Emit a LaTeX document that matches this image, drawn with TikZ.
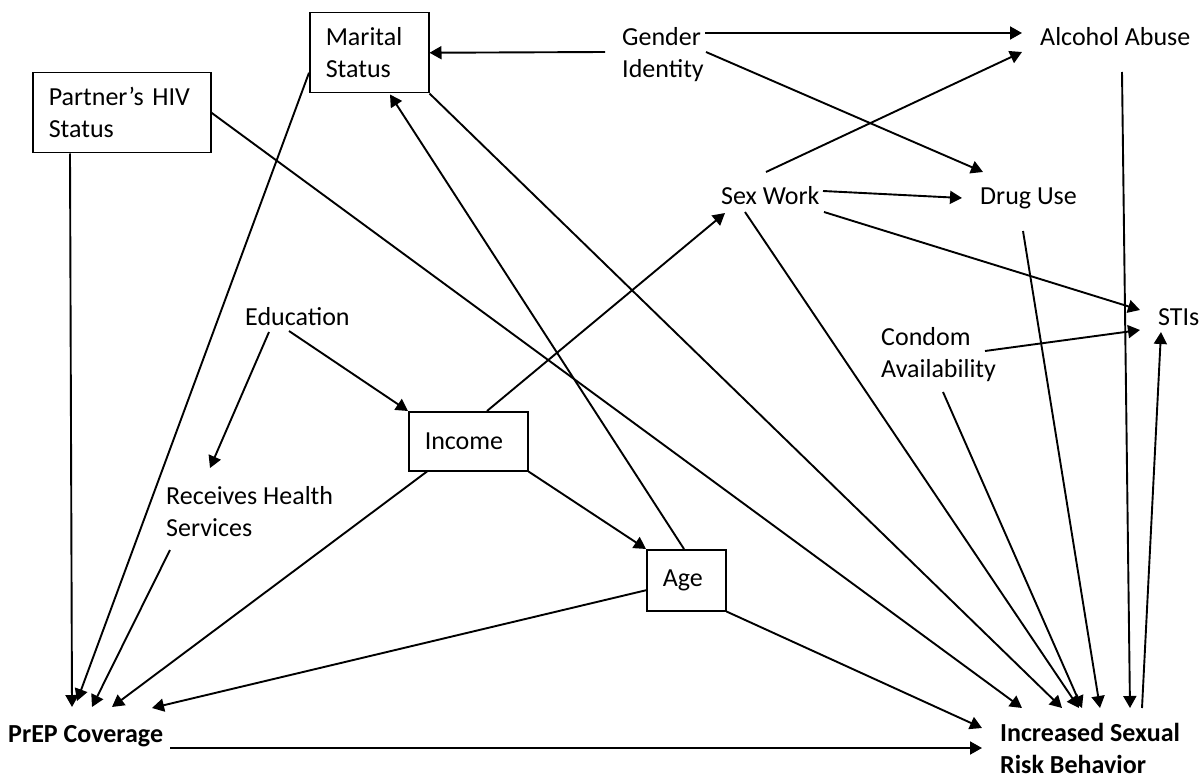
\documentclass[tikz,border=0pt]{standalone}
\usepackage{fontspec}
\setmainfont{Carlito}
\usetikzlibrary{arrows.meta}
\begin{document}
\begin{tikzpicture}[x=1pt,y=-1pt,
  every node/.style={font=\fontsize{26}{32}\selectfont, inner sep=0pt, anchor=base west, align=left},
  boldlbl/.style={font=\fontsize{26}{32}\selectfont\bfseries},
  box/.style={draw, line width=1.5pt, anchor=north west, inner xsep=16pt, inner ysep=0pt},
  arr/.style={-{Triangle[length=12pt,width=13pt]}, line width=1.9pt},
  ln/.style={line width=1.9pt}]
\useasboundingbox (0,0) rectangle (1202,778);

% boxes
\node[box, text width=87pt, minimum height=80pt] (marital) at (309,12) {Marital\\Status};
\node[box, text width=146pt, minimum height=80pt] (partner) at (32,72) {Partner’s HIV\\Status};
\node[box, text width=87pt, minimum height=59pt] (income) at (408,411) {Income};
\node[box, text width=47pt, minimum height=61pt] (age) at (646,549) {Age};

% text nodes (base west = baseline of the last line)
\node (gender) at (622,78) {Gender\\Identity};
\node (alcohol) at (1040,46) {Alcohol Abuse};
\node (sexwork) at (721,205) {Sex Work};
\node (drug) at (980,205) {Drug Use};
\node (stis) at (1158,325) {STIs};
\node (condom) at (881,377) {Condom\\Availability};
\node (education) at (245,325) {Education};
\node (receives) at (166,536) {Receives Health\\Services};
\node[boldlbl] (prep) at (8,742) {PrEP Coverage};
\node[boldlbl] (risk) at (1000,773) {Increased Sexual\\Risk Behavior};

% connectors
\draw[arr] ([shift={(-17,-26)}]gender.base west) -- (marital.east);
\draw[arr] ([shift={(83,-45)}]gender.base west) -- ([shift={(-18,-13)}]alcohol.base west);
\draw[arr] ([shift={(84,-26)}]gender.base west) -- ([shift={(3,-33)}]drug.base west);
\draw[arr] ([shift={(45,-33)}]sexwork.base west) -- ([shift={(-18,6)}]alcohol.base west);
\draw[arr] ([shift={(102,-14)}]sexwork.base west) -- ([shift={(-18,-7)}]drug.base west);
\draw[arr] ([shift={(103,7)}]sexwork.base west) -- ([shift={(-18,-15)}]stis.base west);
\draw[arr] ([shift={(104,-26)}]condom.base west) -- ([shift={(-18,5)}]stis.base west);
\draw[arr] ([shift={(142,-65)}]risk.base west) -- ([shift={(3,7)}]stis.base west);

\draw[arr] ([shift={(82,26)}]alcohol.base west) -- ([shift={(130,-65)}]risk.base west);
\draw[arr] ([shift={(43,26)}]drug.base west) -- ([shift={(100,-65)}]risk.base west);
\draw[arr] ([shift={(24,7)}]sexwork.base west) -- ([shift={(79,-65)}]risk.base west);
\draw[arr] ([shift={(62,15)}]condom.base west) -- ([shift={(82,-65)}]risk.base west);
\draw[arr] (marital.south east) -- ([shift={(62,-65)}]risk.base west);
\draw[arr] (partner.east) -- ([shift={(22,-65)}]risk.base west);
\draw[arr] (age.south east) -- ([shift={(-18,-45)}]risk.base west);
\draw[arr] ([shift={(162,6)}]prep.base west) -- ([shift={(-18,-25)}]risk.base west);

\draw[arr] ([shift={(38,0)}]partner.south west) -- ([shift={(64,-35)}]prep.base west);
\draw[arr] ([shift={(0,20)}]marital.west) -- ([shift={(69,-41)}]prep.base west);
\draw[arr] ([shift={(4,14)}]receives.base west) -- ([shift={(84,-35)}]prep.base west);
\draw[arr] ([shift={(19,0)}]income.south west) -- ([shift={(104,-35)}]prep.base west);
\draw[arr] ([shift={(0,10)}]age.west) -- ([shift={(144,-34)}]prep.base west);

\draw[arr] ([shift={(24,7)}]education.base west) -- ([shift={(44,-68)}]receives.base west);
\draw[arr] ([shift={(44,6)}]education.base west) -- (income.north west);
\draw[arr] ([shift={(79,0)}]income.north west) -- ([shift={(4,8)}]sexwork.base west);
\draw[arr] (income.south east) -- (age.north west);
\draw[arr] ([shift={(38,0)}]age.north west) -- ([shift={(81,1)}]marital.south west);
\end{tikzpicture}
\end{document}
